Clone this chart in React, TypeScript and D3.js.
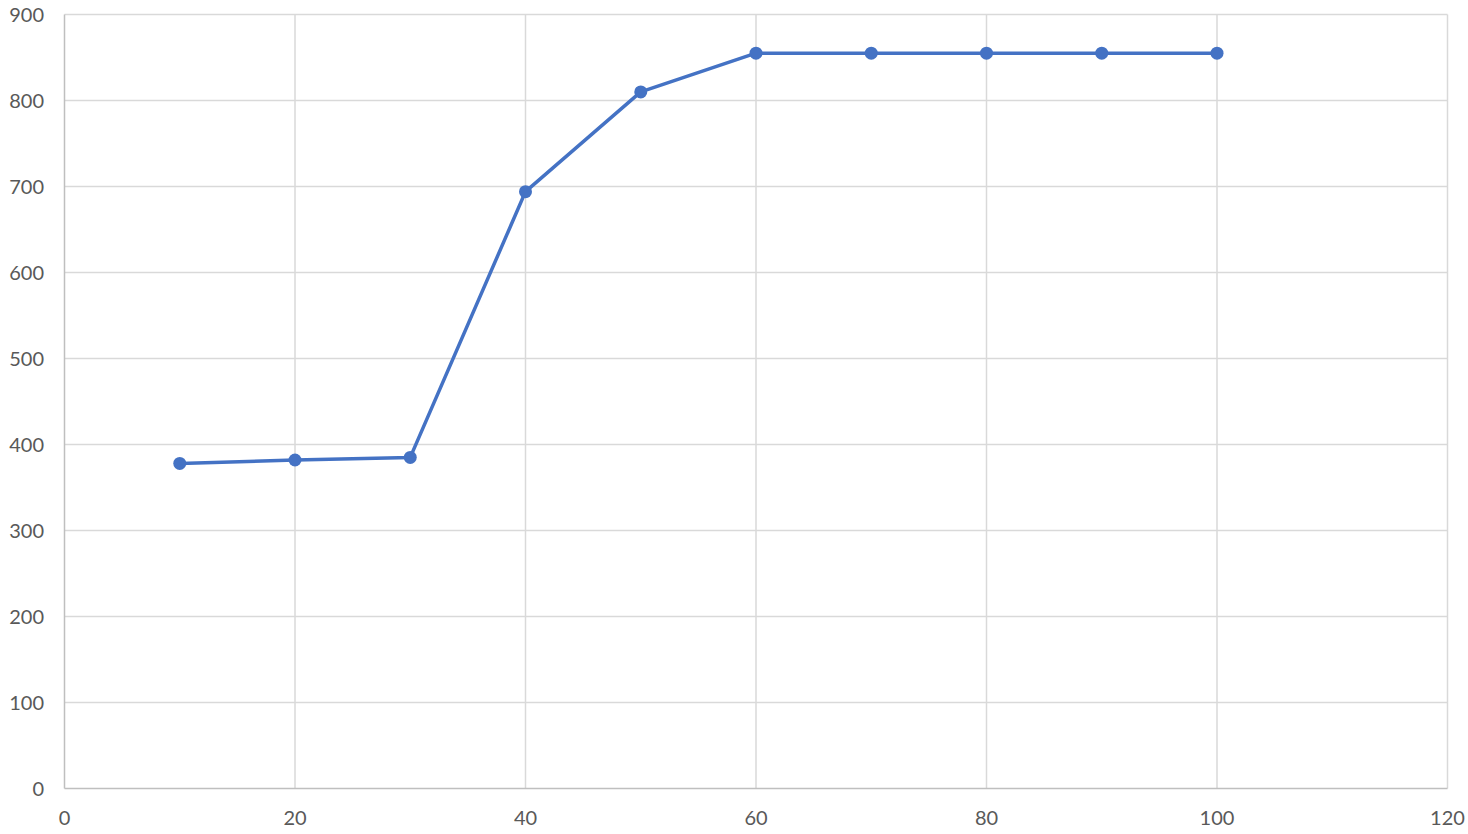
import { useEffect, useRef } from 'react';
import * as d3 from 'd3';

const xValues = [10, 20, 30, 40, 50, 60, 70, 80, 90, 100];
const yValues = [378, 382, 385, 694, 810, 855, 855, 855, 855, 855];
const xTicks = [0, 20, 40, 60, 80, 100, 120];
const yTicks = [0, 100, 200, 300, 400, 500, 600, 700, 800, 900];

const W = 1468;
const H = 834;

const App = () => {
  const svgRef = useRef<SVGSVGElement | null>(null);

  useEffect(() => {
    const svg = d3.select(svgRef.current);
    svg.selectAll('*').remove();

    const x = d3.scaleLinear().domain([0, 120]).range([64.5, 1447.5]);
    const y = d3.scaleLinear().domain([0, 900]).range([788.5, 14.5]);

    const grid = svg.append('g');
    // vertical gridlines
    grid.selectAll('line.vx')
      .data(xTicks.slice(1))
      .join('line')
      .attr('x1', d => x(d)).attr('x2', d => x(d))
      .attr('y1', y(900)).attr('y2', y(0))
      .attr('stroke', '#d9d9d9').attr('stroke-width', 1.5);
    // horizontal gridlines
    grid.selectAll('line.hy')
      .data(yTicks.slice(1))
      .join('line')
      .attr('x1', x(0)).attr('x2', x(120))
      .attr('y1', d => y(d)).attr('y2', d => y(d))
      .attr('stroke', '#d9d9d9').attr('stroke-width', 1.5);

    // axis lines
    svg.append('line')
      .attr('x1', x(0)).attr('x2', x(0)).attr('y1', y(900)).attr('y2', y(0))
      .attr('stroke', '#bfbfbf').attr('stroke-width', 1.5);
    svg.append('line')
      .attr('x1', x(0)).attr('x2', x(120)).attr('y1', y(0)).attr('y2', y(0))
      .attr('stroke', '#bfbfbf').attr('stroke-width', 1.5);

    const font = 'Lato, "Open Sans", sans-serif';

    svg.append('g').selectAll('text')
      .data(yTicks)
      .join('text')
      .attr('x', 44)
      .attr('y', d => y(d))
      .attr('dy', '0.35em')
      .attr('text-anchor', 'end')
      .attr('fill', '#595959')
      .style('font-family', font)
      .style('font-size', '20px')
      .text(d => d);

    svg.append('g').selectAll('text')
      .data(xTicks)
      .join('text')
      .attr('x', d => x(d))
      .attr('y', 818)
      .attr('dy', '0.35em')
      .attr('text-anchor', 'middle')
      .attr('fill', '#595959')
      .style('font-family', font)
      .style('font-size', '20px')
      .text(d => d);

    const pts = xValues.map((v, i) => [v, yValues[i]] as [number, number]);
    const line = d3.line<[number, number]>()
      .x(d => x(d[0]))
      .y(d => y(d[1]));

    svg.append('path')
      .datum(pts)
      .attr('d', line)
      .attr('fill', 'none')
      .attr('stroke', '#4472c4')
      .attr('stroke-width', 3.5)
      .attr('stroke-linejoin', 'round');

    svg.append('g').selectAll('circle')
      .data(pts)
      .join('circle')
      .attr('cx', d => x(d[0]))
      .attr('cy', d => y(d[1]))
      .attr('r', 6.5)
      .attr('fill', '#4472c4');
  }, []);

  return (
    <div style={{ position: 'fixed', left: 0, top: 0, width: W, height: H, background: '#fff' }}>
      <svg ref={svgRef} width={W} height={H} />
    </div>
  );
};

export default App;
